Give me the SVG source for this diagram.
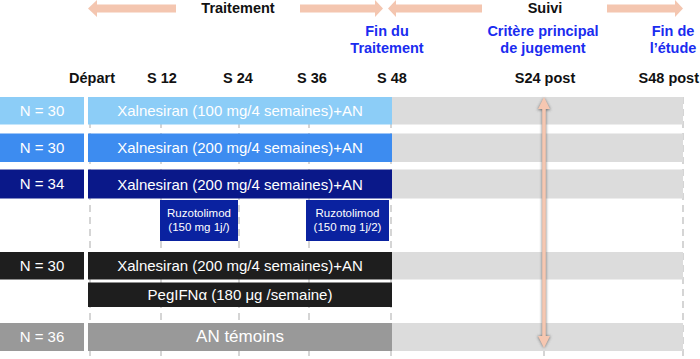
<svg xmlns="http://www.w3.org/2000/svg" width="700" height="359" viewBox="0 0 700 359">
<style>
.hdr{font-family:"Liberation Sans",Arial,sans-serif;font-weight:bold;font-size:14.5px;fill:#111;text-anchor:middle}
.blue{font-family:"Liberation Sans",Arial,sans-serif;font-weight:bold;font-size:14.5px;fill:#1a2cf0;text-anchor:middle}
.w{font-family:"Liberation Sans",Arial,sans-serif;font-size:15px;fill:#fff;text-anchor:middle}
.ws{font-family:"Liberation Sans",Arial,sans-serif;font-size:11.5px;fill:#fff;text-anchor:middle}
.grid{stroke:#c8c8c8;stroke-width:1.5;stroke-dasharray:7 5;fill:none}
.tl{fill:#dcdcdc}
.harrow{fill:#f4c6b0}
</style>
<defs>
<filter id="sh" x="-50%" y="-5%" width="200%" height="110%">
<feGaussianBlur stdDeviation="1.6"/>
</filter>
</defs>
<g id="top-arrows">
<polygon class="harrow" points="88,8.5 97,0 97,4.5 176,4.5 176,12.5 97,12.5 97,17"/>
<polygon class="harrow" points="300,4.5 375,4.5 375,0 383,8.5 375,17 375,12.5 300,12.5"/>
<polygon class="harrow" points="388,8.5 396,0 396,4.5 482,4.5 482,12.5 396,12.5 396,17"/>
<polygon class="harrow" points="607,4.5 675,4.5 675,0 683,8.5 675,17 675,12.5 607,12.5"/>
<text class="hdr" x="238" y="13">Traitement</text>
<text class="hdr" x="545" y="13">Suivi</text>
</g>
<g id="milestones">
<text class="blue" x="387" y="36">Fin du</text>
<text class="blue" x="387" y="53">Traitement</text>
<text class="blue" x="543" y="36">Critère principal</text>
<text class="blue" x="543" y="53">de jugement</text>
<text class="blue" x="673" y="36">Fin de</text>
<text class="blue" x="673" y="53">l’étude</text>
</g>
<g id="timepoints">
<text class="hdr" x="92" y="83">Départ</text>
<text class="hdr" x="162" y="83">S 12</text>
<text class="hdr" x="238" y="83">S 24</text>
<text class="hdr" x="312" y="83">S 36</text>
<text class="hdr" x="392" y="83">S 48</text>
<text class="hdr" x="545" y="83">S24 post</text>
<text class="hdr" x="699" y="83" style="text-anchor:end">S48 post</text>
</g>
<g id="grid">
<line class="grid" x1="90" y1="97" x2="90" y2="356"/>
<line class="grid" x1="161" y1="97" x2="161" y2="356"/>
<line class="grid" x1="239" y1="97" x2="239" y2="356"/>
<line class="grid" x1="309" y1="97" x2="309" y2="356"/>
<line class="grid" x1="391" y1="97" x2="391" y2="356"/>
<line class="grid" x1="544" y1="97" x2="544" y2="356"/>
<line class="grid" x1="683" y1="97" x2="683" y2="356"/>
</g>
<g id="followup">
<rect class="tl" x="392" y="97" width="291" height="27.5"/>
<rect class="tl" x="392" y="133.5" width="291" height="28.5"/>
<rect class="tl" x="392" y="169.5" width="291" height="29"/>
<rect class="tl" x="392" y="252" width="291" height="27.5"/>
<rect class="tl" x="392" y="323" width="291" height="28"/>
</g>
<g id="arm1">
<rect x="0" y="97" width="84" height="27.5" fill="#8ccdf7"/>
<rect x="88" y="97" width="304" height="27.5" fill="#8ccdf7"/>
<text class="w" x="42" y="116">N = 30</text>
<text class="w" x="240" y="116">Xalnesiran (100 mg/4 semaines)+AN</text>
</g>
<g id="arm2">
<rect x="0" y="133.5" width="84" height="28.5" fill="#3d8cf0"/>
<rect x="88" y="133.5" width="304" height="28.5" fill="#3d8cf0"/>
<text class="w" x="42" y="153">N = 30</text>
<text class="w" x="240" y="153">Xalnesiran (200 mg/4 semaines)+AN</text>
</g>
<g id="arm3">
<rect x="0" y="169.5" width="84" height="29" fill="#0a1889"/>
<rect x="88" y="169.5" width="304" height="29" fill="#0a1889"/>
<text class="w" x="42" y="189">N = 34</text>
<text class="w" x="240" y="190">Xalnesiran (200 mg/4 semaines)+AN</text>
</g>
<g id="ruzo1">
<rect x="160" y="200" width="78" height="41" fill="#0a22a0"/>
<text class="ws" x="199" y="217">Ruzotolimod</text>
<text class="ws" x="199" y="230.5">(150 mg 1j/)</text>
</g>
<g id="ruzo2">
<rect x="306" y="200" width="83" height="41" fill="#0a22a0"/>
<text class="ws" x="347.5" y="217">Ruzotolimod</text>
<text class="ws" x="347.5" y="230.5">(150 mg 1j/2)</text>
</g>
<g id="arm4">
<rect x="0" y="252" width="84" height="27.5" fill="#1e1e1e"/>
<rect x="88" y="252" width="304" height="27.5" fill="#1e1e1e"/>
<text class="w" x="42" y="271">N = 30</text>
<text class="w" x="240" y="271">Xalnesiran (200 mg/4 semaines)+AN</text>
</g>
<g id="pegifn">
<rect x="88" y="282.5" width="304" height="24.5" fill="#1e1e1e"/>
<text class="w" x="240" y="300">PegIFNα (180 μg /semaine)</text>
</g>
<g id="arm5">
<rect x="0" y="323" width="84" height="28" fill="#999999"/>
<rect x="88" y="323" width="304" height="28" fill="#999999"/>
<text class="w" x="42" y="342">N = 36</text>
<text class="w" x="240" y="342" style="font-size:17px">AN témoins</text>
</g>
<g id="connectors">
<g filter="url(#sh)" fill="#555" opacity="0.8">
<polygon points="544,98 550.5,110 546,110 546,336 550.5,336 544,348 537.5,336 542,336 542,110 537.5,110"/>
</g>
<polygon fill="#f6c7b1" points="544,97 550,109 545.8,109 545.8,336 550,336 544,348 538,336 542.2,336 542.2,109 538,109"/>
</g>
</svg>
